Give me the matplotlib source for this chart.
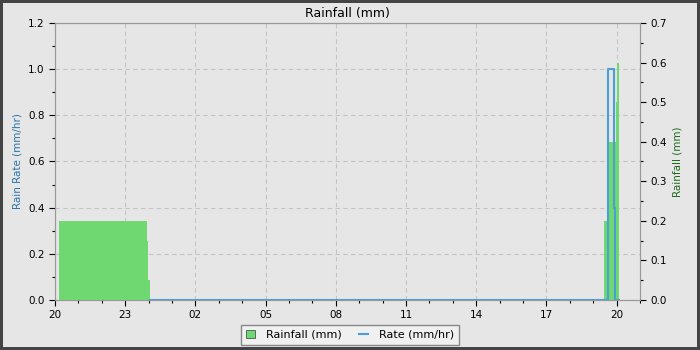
import matplotlib
matplotlib.use("Agg")
import matplotlib.pyplot as plt
from matplotlib.ticker import MultipleLocator
from matplotlib.patches import Patch
from matplotlib.lines import Line2D

# hours since 20:00 on the first day
hour_ticks = [0, 3, 6, 9, 12, 15, 18, 21, 24]
hour_labels = ['20', '23', '02', '05', '08', '11', '14', '17', '20']

# rainfall bars (mm): start, end, amount
rain_start = [0.17, 3.94, 3.99, 23.46, 23.59, 23.96, 24.00]
rain_end = [3.94, 3.99, 4.04, 23.59, 23.96, 24.00, 24.10]
rain_mm = [0.2, 0.15, 0.05, 0.2, 0.4, 0.5, 0.6]

# rain rate (mm/hr), step series
rate_t = [4.04, 23.62, 23.88, 23.91, 23.95, 24.10]
rate_mmhr = [0.0, 1.0, 0.8, 0.4, 0.0, 0.0]

bg = '#e6e6e6'
green = '#70d870'
blue = '#4a9fd6'
spine_c = '#999999'

fig = plt.figure(figsize=(7, 3.5), dpi=100, facecolor=bg)
fig.patch.set_edgecolor('#444444')
fig.patch.set_linewidth(4)
ax = fig.add_axes([55/700, 50/350, 585/700, 277/350])
ax.set_facecolor(bg)

ax.set_xlim(0, 25)
ax.set_ylim(0, 1.2)
ax.set_xticks(hour_ticks)
ax.set_xticklabels(hour_labels)
ax.xaxis.set_minor_locator(MultipleLocator(1))
ax.yaxis.set_major_locator(MultipleLocator(0.2))
ax.yaxis.set_minor_locator(MultipleLocator(0.1))
ax.grid(True, which='major', color='#c4c4c4', linestyle=(0, (4, 3)), linewidth=0.8)
ax.set_ylabel('Rain Rate (mm/hr)', color='#2a74a8', fontsize=7.5)
ax.set_title('Rainfall (mm)', fontsize=9, pad=4)

ax2 = ax.twinx()
widths = [e - s for s, e in zip(rain_start, rain_end)]
ax2.bar(rain_start, rain_mm, width=widths, align='edge', color=green, linewidth=0)
ax2.set_ylim(0, 0.7)
ax2.yaxis.set_major_locator(MultipleLocator(0.1))
ax2.yaxis.set_minor_locator(MultipleLocator(0.05))
ax2.set_ylabel('Rainfall (mm)', color='#1d6b1d', fontsize=7.5)

ax3 = ax.twinx()
ax3.step(rate_t, rate_mmhr, where='post', color=blue, linewidth=1.5)
ax3.set_ylim(0, 1.2)
ax3.axis('off')

for a in (ax, ax2):
    for s in a.spines.values():
        s.set_color(spine_c)
    a.tick_params(which='major', direction='out', length=4, width=0.8, labelsize=7.5)
    a.tick_params(which='minor', direction='out', length=2.5, width=0.8)
ax.yaxis.set_major_formatter(matplotlib.ticker.FormatStrFormatter('%.1f'))
ax2.yaxis.set_major_formatter(matplotlib.ticker.FormatStrFormatter('%.1f'))

handles = [Patch(facecolor=green, edgecolor='#555555', linewidth=0.6, label='Rainfall (mm)'),
           Line2D([], [], color=blue, linewidth=1.5, label='Rate (mm/hr)')]
leg = fig.legend(handles=handles, loc='lower center', bbox_to_anchor=(0.5, 0.005), ncol=2,
                 fontsize=8, fancybox=False, framealpha=1, edgecolor='#888888',
                 handlelength=0.8, handleheight=0.8, handletextpad=1.0,
                 columnspacing=1.6, borderpad=0.45, borderaxespad=0.3)
leg.get_frame().set_facecolor('#f0f0f0')

fig.savefig('out.png', dpi=100, facecolor=fig.get_facecolor(), edgecolor=fig.get_edgecolor())
